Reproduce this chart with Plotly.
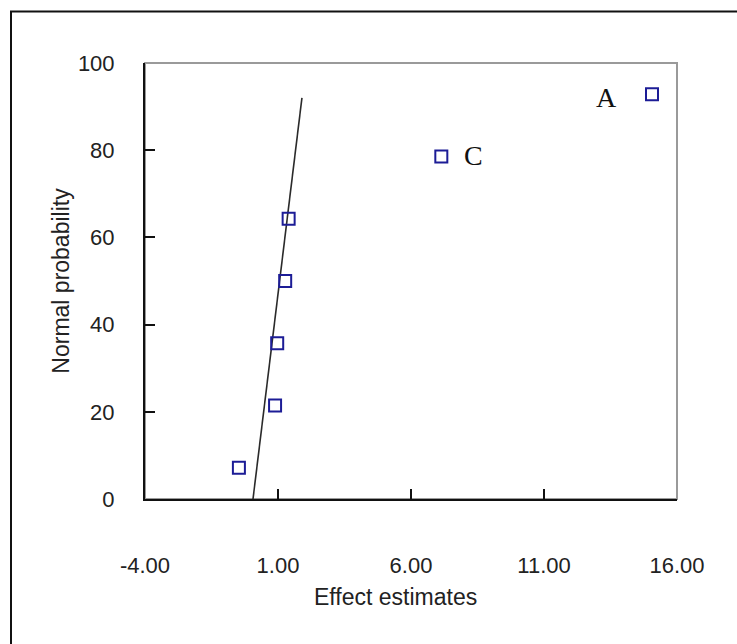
import plotly.graph_objects as go

# Effect estimates and their normal probability plotting positions
effects = [-0.47, 0.89, 0.97, 1.27, 1.40, 7.14, 15.06]
probs = [7.14, 21.43, 35.71, 50.0, 64.29, 78.57, 92.86]

# Reference line through the small (noise) effects
fit_x = [0.06, 1.90]
fit_y = [0.0, 92.0]

# Labelled significant effects
label_text = ["A", "C"]
label_x = [13.35, 8.35]
label_y = [92.2, 78.8]

x_ticks = [-4, 1, 6, 11, 16]
x_tick_text = [f"{v:.2f}" for v in x_ticks]
y_ticks = [0, 20, 40, 60, 80, 100]

W, H = 737, 644
ML, MR, MT, MB = 145, 60, 63, 145
PW, PH = W - ML - MR, H - MT - MB


def px_to_paper_x(px):
    return (px - ML) / PW


def px_to_paper_y(py):
    return (H - MB - py) / PH


fig = go.Figure()

fig.add_trace(go.Scatter(
    x=fit_x, y=fit_y, mode="lines",
    line=dict(color="#2a2a2a", width=1.6),
    showlegend=False, hoverinfo="skip",
))

fig.add_trace(go.Scatter(
    x=effects, y=probs, mode="markers",
    marker=dict(symbol="square-open", size=12, color="#1c1c96",
                line=dict(width=2, color="#1c1c96")),
    showlegend=False,
))

for t, xv, yv in zip(label_text, label_x, label_y):
    fig.add_annotation(
        x=xv, y=yv, text=t, showarrow=False,
        font=dict(family="Liberation Serif, Times New Roman, serif", size=28, color="#111"),
        xanchor="center", yanchor="middle",
    )

font_main = dict(family="Liberation Sans, Arial, sans-serif", size=22, color="#222")
font_title = dict(family="Liberation Sans, Arial, sans-serif", size=23, color="#222")

# x-axis title, set slightly left of the plot centre
fig.add_annotation(
    xref="paper", yref="paper", x=px_to_paper_x(395), y=px_to_paper_y(597),
    text="Effect estimates", showarrow=False, font=font_title,
    xanchor="center", yanchor="middle",
)

# gray frame around the plotting area (top and right edges visible)
fig.add_shape(type="rect", xref="paper", yref="paper", x0=0, y0=0, x1=1, y1=1,
              line=dict(color="#9a9a9a", width=2), layer="below")

# outer border of the figure
fig.add_shape(type="rect", xref="paper", yref="paper",
              x0=px_to_paper_x(11), y0=px_to_paper_y(660),
              x1=px_to_paper_x(750), y1=px_to_paper_y(11.5),
              line=dict(color="#111", width=2), layer="below")

fig.update_layout(
    width=W, height=H,
    margin=dict(l=ML, r=MR, t=MT, b=MB, autoexpand=False),
    paper_bgcolor="white", plot_bgcolor="white",
    font=font_main,
    xaxis=dict(
        range=[-4, 16], tickvals=x_ticks, ticktext=x_tick_text,
        showgrid=False, zeroline=False,
        showline=True, linecolor="#111", linewidth=2,
        ticks="inside", ticklen=10, tickwidth=2, tickcolor="#111",
        ticklabelstandoff=46,
        automargin=False,
    ),
    yaxis=dict(
        range=[0, 100], tickvals=y_ticks,
        showgrid=False, zeroline=False,
        showline=True, linecolor="#111", linewidth=2,
        ticks="inside", ticklen=10, tickwidth=2, tickcolor="#111",
        ticklabelstandoff=24,
        title=dict(text="Normal probability", font=font_title, standoff=2),
        automargin=False,
    ),
)

fig.write_html("out.html")
